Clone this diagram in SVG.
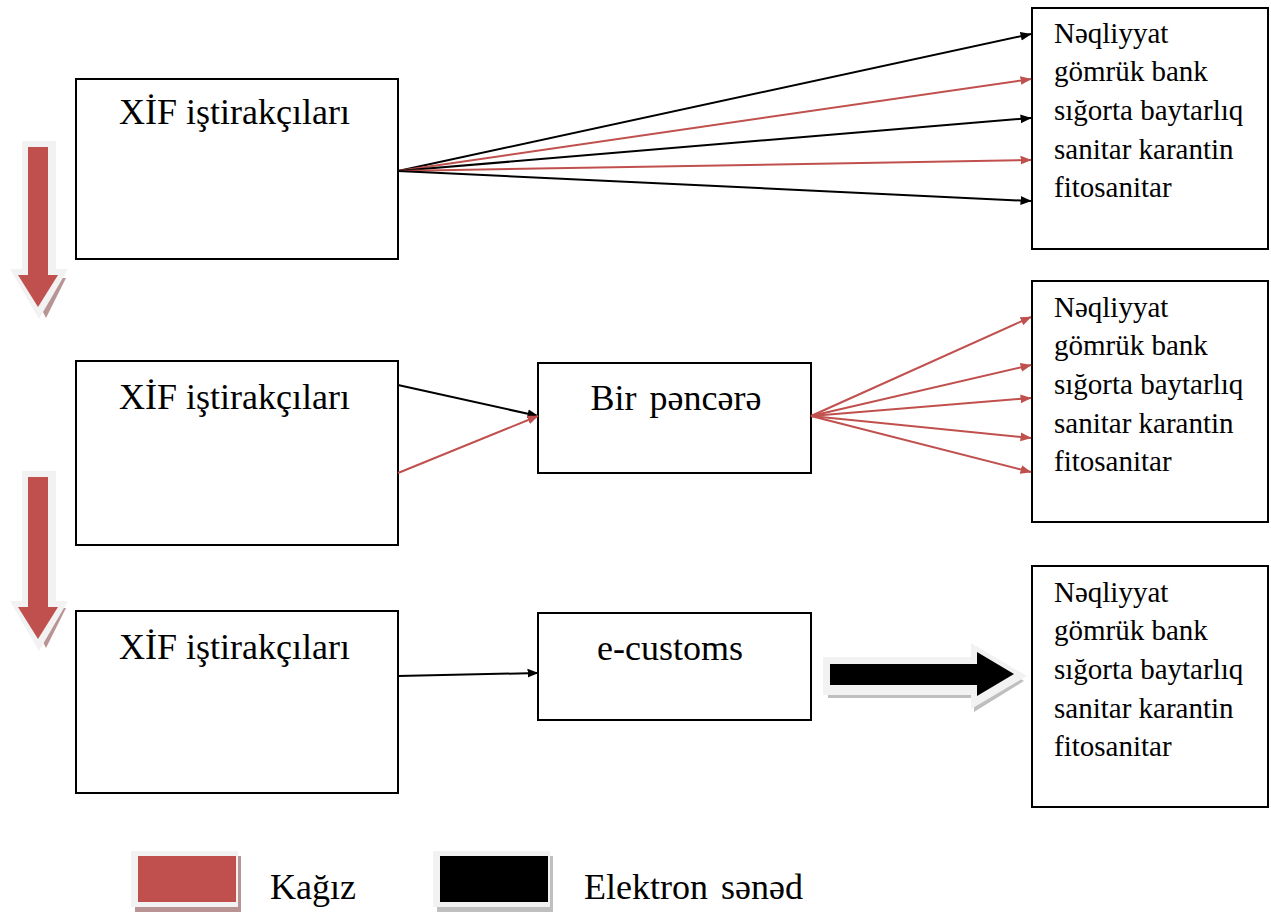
<svg xmlns="http://www.w3.org/2000/svg" width="1271" height="914" viewBox="0 0 1271 914">
<style>
.box{fill:#fff;stroke:#000;stroke-width:2}
.t{font-family:"Liberation Serif",serif;fill:#000}
.big{font-size:36px}
.sm{font-size:29px}
.k{stroke:#000;stroke-width:2;fill:none}
.r{stroke:#C0504D;stroke-width:2;fill:none}
.red{fill:#C0504D}
.outl{fill:#F2F2F2}
</style>
<defs>
<marker id="ak" viewBox="0 0 10 10" refX="9.5" refY="5" markerWidth="11" markerHeight="11" orient="auto" markerUnits="userSpaceOnUse"><path d="M0,1 L10,5 L0,9 z" fill="#000"/></marker>
<marker id="ar" viewBox="0 0 10 10" refX="9.5" refY="5" markerWidth="11" markerHeight="11" orient="auto" markerUnits="userSpaceOnUse"><path d="M0,1 L10,5 L0,9 z" fill="#C0504D"/></marker>
</defs>
<rect width="1271" height="914" fill="#fff"/>

<g id="downarrow1">
<path d="M27,146 h24 v128 h11 l-20,40 l-20,-40 h11 z" fill="#B89494" transform="translate(4,4)"/>
<path d="M22,141 h34 v128 h12 l-29,50 l-29,-50 h12 z" class="outl"/>
<path d="M28,147 h20 v128 h10 l-20,32 l-20,-32 h10 z" class="red"/>
</g>
<g id="downarrow2">
<path d="M27,476 h24 v128 h11 l-20,40 l-20,-40 h11 z" fill="#B89494" transform="translate(4,4)"/>
<path d="M22,471 h34 v130 h12 l-29,50 l-29,-50 h12 z" class="outl"/>
<path d="M28,477 h20 v130 h10 l-20,32 l-20,-32 h10 z" class="red"/>
</g>

<g id="box1"><rect x="76" y="79" width="322" height="180" class="box"/><text x="119" y="124" class="t big">XİF iştirakçıları</text></g>
<g id="box2"><rect x="76" y="361" width="322" height="184" class="box"/><text x="119" y="409" class="t big">XİF iştirakçıları</text></g>
<g id="box3"><rect x="76" y="611" width="322" height="182" class="box"/><text x="119" y="659" class="t big">XİF iştirakçıları</text></g>
<g id="bir"><rect x="538" y="363" width="273" height="110" class="box"/><text x="676" y="410" text-anchor="middle" class="t big" word-spacing="4">Bir pəncərə</text></g>
<g id="ecustoms"><rect x="538" y="613" width="273" height="107" class="box"/><text x="670" y="660" text-anchor="middle" class="t big">e-customs</text></g>

<g id="right1"><rect x="1032" y="8" width="236" height="241" class="box"/>
<text class="t sm"><tspan x="1054" y="43">Nəqliyyat</tspan><tspan x="1054" y="81">gömrük bank</tspan><tspan x="1054" y="120">sığorta baytarlıq</tspan><tspan x="1054" y="159">sanitar karantin</tspan><tspan x="1054" y="197">fitosanitar</tspan></text></g>
<g id="right2"><rect x="1032" y="281" width="236" height="241" class="box"/>
<text class="t sm"><tspan x="1054" y="317">Nəqliyyat</tspan><tspan x="1054" y="355">gömrük bank</tspan><tspan x="1054" y="394">sığorta baytarlıq</tspan><tspan x="1054" y="433">sanitar karantin</tspan><tspan x="1054" y="471">fitosanitar</tspan></text></g>
<g id="right3"><rect x="1032" y="566" width="236" height="241" class="box"/>
<text class="t sm"><tspan x="1054" y="602">Nəqliyyat</tspan><tspan x="1054" y="640">gömrük bank</tspan><tspan x="1054" y="679">sığorta baytarlıq</tspan><tspan x="1054" y="718">sanitar karantin</tspan><tspan x="1054" y="756">fitosanitar</tspan></text></g>

<g id="connectors">
<line x1="398" y1="171" x2="1031" y2="34" class="k" marker-end="url(#ak)"/>
<line x1="398" y1="171" x2="1031" y2="79" class="r" marker-end="url(#ar)"/>
<line x1="398" y1="171" x2="1031" y2="118" class="k" marker-end="url(#ak)"/>
<line x1="398" y1="171" x2="1031" y2="160" class="r" marker-end="url(#ar)"/>
<line x1="398" y1="171" x2="1031" y2="201" class="k" marker-end="url(#ak)"/>

<line x1="398" y1="385" x2="538" y2="416" class="k" marker-end="url(#ak)"/>
<line x1="398" y1="473" x2="538" y2="416" class="r" marker-end="url(#ar)"/>

<line x1="811" y1="416" x2="1031" y2="317" class="r" marker-end="url(#ar)"/>
<line x1="811" y1="416" x2="1031" y2="365" class="r" marker-end="url(#ar)"/>
<line x1="811" y1="416" x2="1031" y2="398" class="r" marker-end="url(#ar)"/>
<line x1="811" y1="416" x2="1031" y2="438" class="r" marker-end="url(#ar)"/>
<line x1="811" y1="416" x2="1031" y2="472" class="r" marker-end="url(#ar)"/>

<line x1="398" y1="676" x2="538" y2="673" class="k" marker-end="url(#ak)"/>
</g>

<g id="bigarrow">
<path d="M825,659 h146 v-14 l50,31 l-50,31 v-14 h-146 z" fill="#BFBFBF" transform="translate(3,5)"/>
<path d="M823,657 h148 v-14 l56,33 l-56,33 v-14 h-148 z" class="outl"/>
<path d="M830,664 h147 v-12 l37,22 l-37,22 v-11 h-147 z" fill="#000"/>
</g>

<g id="legend">
<rect x="135" y="856" width="106" height="56" fill="#B89494"/>
<rect x="131" y="851" width="107" height="56" class="outl"/>
<rect x="138" y="856" width="98" height="46" class="red"/>
<text x="270" y="899" class="t" font-size="36">Kağız</text>
<rect x="437" y="856" width="116" height="56" fill="#BFBFBF"/>
<rect x="433" y="851" width="117" height="56" class="outl"/>
<rect x="440" y="856" width="108" height="46" fill="#000"/>
<text x="584" y="899" class="t" font-size="36" word-spacing="4">Elektron sənəd</text>
</g>
</svg>
